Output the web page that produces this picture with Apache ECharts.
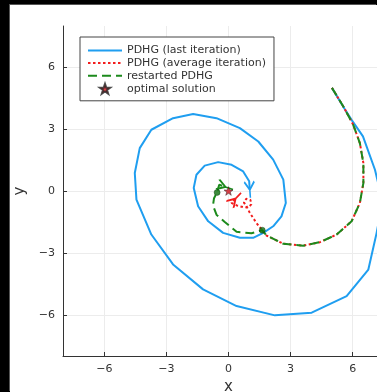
<!DOCTYPE html>
<html>
<head>
<meta charset="utf-8">
<script src="https://cdn.jsdelivr.net/npm/echarts@6/dist/echarts.min.js"></script>
<style>
  html, body { margin: 0; padding: 0; background: #000; }
  #chart {
    position: absolute; left: 10px; top: 5px;
    width: 367px; height: 387px;
    background: #fff; box-shadow: -1px -1px 0 #555;
  }
</style>
</head>
<body>
<div id="chart"></div>
<script>
// last iterate of PDHG, spirals around the optimum
const lastIter = [
  [5, 5], [5.6, 4.0], [5.95, 3.45], [6.5, 2.65], [7.08, 1.03], [7.45, -0.5],
  [7.16, -2.03], [6.76, -3.81], [5.71, -5.1], [4.02, -5.9], [2.24, -6.03],
  [0.39, -5.58], [-1.23, -4.77], [-2.68, -3.56], [-3.73, -2.11], [-4.45, -0.42],
  [-4.53, 0.87], [-4.29, 2.08], [-3.73, 2.97], [-2.68, 3.53], [-1.71, 3.73],
  [-0.58, 3.53], [0.55, 3.05], [1.44, 2.4], [2.16, 1.52], [2.65, 0.55],
  [2.77, -0.58], [2.56, -1.23], [2.16, -1.71], [1.68, -2.03], [1.19, -2.27],
  [0.55, -2.27], [-0.26, -2.03], [-0.98, -1.47], [-1.47, -0.74], [-1.68, 0.15],
  [-1.55, 0.79], [-1.15, 1.23], [-0.5, 1.4], [0.15, 1.27], [0.71, 0.95],
  [1.0, 0.47], [1.03, 0.06]
];
// averaged iterate
const avgIter = [
  [5, 5], [5.55, 4.1], [6.03, 3.21], [6.35, 2.32], [6.52, 1.35], [6.52, 0.39],
  [6.35, -0.58], [5.95, -1.47], [5.23, -2.11], [4.42, -2.48], [3.61, -2.65],
  [2.65, -2.56], [1.84, -2.16], [1.63, -1.9], [1.35, -1.55], [1.03, -1.06],
  [0.87, -0.74], [0.74, -0.55], [0.86, -0.38], [1.06, -0.43], [1.1, -0.65],
  [0.95, -0.8], [0.7, -0.78], [0.4, -0.7], [0.14, -0.58], [0.34, -0.37]
];
// restarted PDHG
const restarted = [
  [5, 5], [5.55, 4.1], [6.03, 3.21], [6.35, 2.32], [6.52, 1.35], [6.52, 0.39],
  [6.35, -0.58], [5.95, -1.47], [5.23, -2.11], [4.42, -2.48], [3.61, -2.65],
  [2.65, -2.56], [1.84, -2.16], [1.63, -1.9], [1.11, -2.05], [0.39, -1.98],
  [-0.18, -1.5], [-0.58, -1.15], [-0.75, -0.7], [-0.7, -0.35], [-0.55, -0.07],
  [-0.45, 0.3], [-0.15, 0.2]
];
const restartPts = [[1.63, -1.9], [-0.55, -0.07]];
const optimum = [[0, 0]];
const ticks = [-6, -3, 0, 3, 6];

const BLUE = '#1f9ef0', RED = '#f21d1d', GREEN = '#1c8a1c';
const STAR = 'path://M50,0 L61.8,35.1 L97.6,35.5 L69,57.2 L79.4,91.5 L50,70.8 L20.6,91.5 L31,57.2 L2.4,35.5 L38.2,35.1 Z';
const ARROW = 'path://M0,0 L5,8 L10,0 M5,8 L5,16';

// put an open arrow head on the last point, turned along the last segment
function withArrow(pts, color) {
  const n = pts.length;
  const dx = pts[n - 1][0] - pts[n - 2][0];
  const dy = pts[n - 1][1] - pts[n - 2][1];
  const rot = Math.atan2(dy, dx) * 180 / Math.PI + 90;
  return pts.map((p, i) => i < n - 1 ? { value: p, symbol: 'none' } : {
    value: p, symbol: ARROW, symbolSize: [10, 16], symbolRotate: rot,
    itemStyle: { color: 'none', borderColor: color, borderWidth: 2 }
  });
}

const chart = echarts.init(document.getElementById('chart'));
const axisCommon = {
  type: 'value', min: -8, max: 8,
  axisLine: { show: true, onZero: false, lineStyle: { color: '#333', width: 1 } },
  axisTick: { show: true, inside: true, length: 4, customValues: ticks, lineStyle: { color: '#333' } },
  axisLabel: { customValues: ticks, color: '#333', fontSize: 11, fontFamily: 'DejaVu Sans',
    formatter: v => (v < 0 ? '\u2212' + (-v) : '' + v) },
  splitLine: { show: true, lineStyle: { color: '#ececec', width: 1 } },
  nameLocation: 'middle',
  nameTextStyle: { color: '#333', fontSize: 15, fontFamily: 'DejaVu Sans' }
};

const noDot = { opacity: 0 };

chart.setOption({
  animation: false,
  grid: { left: 53, top: 21, right: -17, bottom: 36, containLabel: false, outerBoundsMode: 'none' },
  xAxis: Object.assign({}, axisCommon, { name: 'x', nameGap: 20 }),
  yAxis: Object.assign({}, axisCommon, { name: 'y', nameGap: 33, nameRotate: 90 }),
  legend: {
    orient: 'vertical', left: 70, top: 32,
    padding: [8, 8, 6, 7], itemGap: 1.6, itemWidth: 34, itemHeight: 10,
    backgroundColor: '#fff', borderColor: '#444', borderWidth: 1, borderRadius: 0,
    textStyle: { color: '#333', fontSize: 11, lineHeight: 10, fontFamily: 'DejaVu Sans' },
    data: [
      { name: 'PDHG (last iteration)', itemStyle: noDot },
      { name: 'PDHG (average iteration)', itemStyle: noDot },
      { name: 'restarted PDHG', itemStyle: noDot },
      { name: 'optimal solution' }
    ]
  },
  series: [
    {
      name: 'PDHG (last iteration)', type: 'line', data: withArrow(lastIter, BLUE),
      symbol: 'none', showSymbol: true, showAllSymbol: true, z: 2,
      lineStyle: { color: BLUE, width: 2 }, itemStyle: { color: BLUE }
    },
    {
      name: 'PDHG (average iteration)', type: 'line', data: withArrow(avgIter, RED),
      symbol: 'none', showSymbol: true, showAllSymbol: true, z: 3,
      lineStyle: { color: RED, width: 2, type: [2.5, 2.5] }, itemStyle: { color: RED }
    },
    {
      name: 'restarted PDHG', type: 'line', data: withArrow(restarted, GREEN),
      symbol: 'none', showSymbol: true, showAllSymbol: true, z: 4,
      lineStyle: { color: GREEN, width: 2, type: [9, 5] }, itemStyle: { color: GREEN }
    },
    {
      type: 'scatter', data: restartPts, symbol: 'circle', symbolSize: 6, z: 5,
      itemStyle: { color: '#0d6e0d', borderColor: '#0a3a0a', borderWidth: 0.5 }
    },
    {
      name: 'optimal solution', type: 'scatter', data: optimum, symbol: STAR,
      symbolSize: 9, symbolKeepAspect: true, z: 6,
      itemStyle: { color: '#d0101a', borderColor: '#222', borderWidth: 0.6 }
    }
  ]
});
</script>
</body>
</html>
